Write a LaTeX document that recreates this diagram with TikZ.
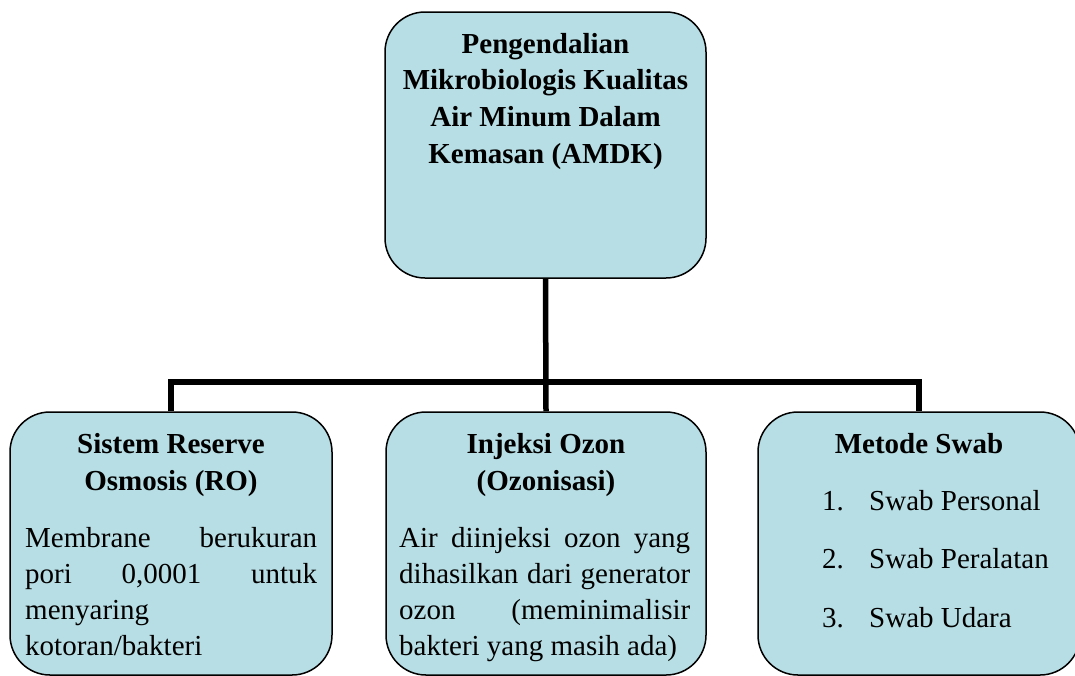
\documentclass[tikz,border=0pt]{standalone}
\usepackage{fontspec}
\setmainfont{Liberation Serif}
\usepackage{xcolor}
\definecolor{boxcyan}{RGB}{183, 222, 228}
\definecolor{linedark}{RGB}{0, 0, 0}
\tikzstyle{box}=[shape=rectangle, rounded corners=40pt, draw=linedark, line width=1.5pt, fill=boxcyan, inner sep=0pt]
\tikzstyle{link}=[line width=5.5pt, color=linedark, line join=miter]
\tikzstyle{headtxt}=[font=\fontsize{29}{36}\selectfont\bfseries, inner sep=0pt, anchor=base]
\tikzstyle{bodytxt}=[font=\fontsize{29}{36}\selectfont, inner sep=0pt, anchor=base west]

\begin{document}
\begin{tikzpicture}[x=1pt, y=-1pt]
    \useasboundingbox (0,0) rectangle (1075,675);

    % Boxes
    \node[box, minimum width=321pt, minimum height=266pt] (root) at (545.5,145) {};
    \node[box, minimum width=322pt, minimum height=263pt] (ro) at (171,543.5) {};
    \node[box, minimum width=320pt, minimum height=263pt] (ozon) at (546,543.5) {};
    \node[box, minimum width=322pt, minimum height=263pt] (swab) at (919,543.5) {};

    % Connectors
    \coordinate (hub) at (546,382);
    \draw[link] (root.south) -- (ozon.north);
    \draw[link] (ro.north) |- (hub) -| (swab.north);

    % Top title
    \foreach \t [count=\i from 0] in {Pengendalian, Mikrobiologis Kualitas, Air Minum Dalam, Kemasan (AMDK)}
        \node[headtxt] (title\i) at (545.5, 53+36.7*\i) {\t};

    % Headings
    \node[headtxt] (rohead0) at (171,453) {Sistem Reserve};
    \node[headtxt] (rohead1) at (171,490) {Osmosis (RO)};
    \node[headtxt] (ozonhead0) at (546,453) {Injeksi Ozon};
    \node[headtxt] (ozonhead1) at (546,490) {(Ozonisasi)};
    \node[headtxt] (swabhead) at (919,453) {Metode Swab};

    % RO text
    \node[bodytxt] (robody0) at (25,547) {\makebox[292pt][s]{Membrane berukuran}};
    \node[bodytxt] (robody1) at (25,583) {\makebox[292pt][s]{pori 0,0001 untuk}};
    \node[bodytxt] (robody2) at (25,619) {menyaring};
    \node[bodytxt] (robody3) at (25,655) {kotoran/bakteri};

    % Ozon text
    \node[bodytxt] (ozonbody0) at (399,547) {\makebox[291pt][s]{Air diinjeksi ozon yang}};
    \node[bodytxt] (ozonbody1) at (399,583) {\makebox[291pt][s]{dihasilkan dari generator}};
    \node[bodytxt] (ozonbody2) at (399,619) {\makebox[291pt][s]{ozon (meminimalisir}};
    \node[bodytxt] (ozonbody3) at (399,655) {bakteri yang masih ada)};

    % Swab list
    \foreach \t [count=\i] in {Swab Personal, Swab Peralatan, Swab Udara} {
        \node[bodytxt] (swabnum\i) at (822, 451.5+58.5*\i) {\i.};
        \node[bodytxt] (swabitem\i) at (869, 451.5+58.5*\i) {\t};
    }

\end{tikzpicture}
\end{document}
